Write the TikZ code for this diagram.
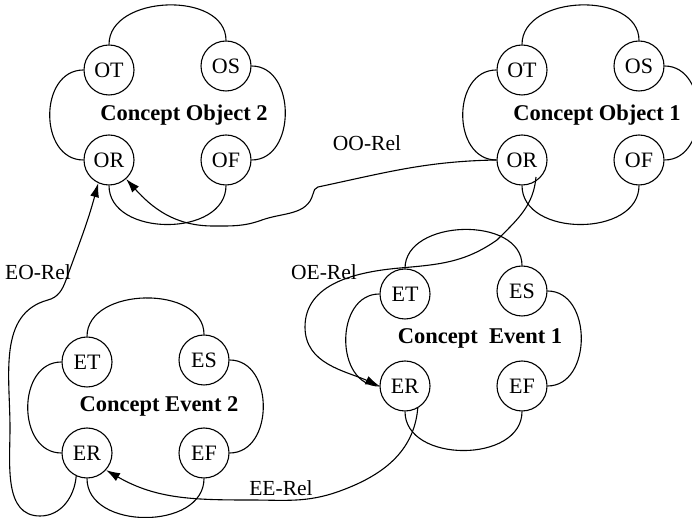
\documentclass[tikz,border=0pt]{standalone}
\usepackage{fontspec}
\setmainfont{Liberation Serif}
\usetikzlibrary{arrows.meta}
\begin{document}
\begin{tikzpicture}[x=1pt,y=1pt,
  sub/.style={circle, draw, line width=1.1pt, minimum size=50pt, inner sep=0pt, font=\fontsize{22}{24}\selectfont},
  cname/.style={font=\fontsize{22.5}{26}\selectfont\bfseries, inner sep=0pt},
  rel/.style={font=\fontsize{21.5}{24}\selectfont, inner sep=0pt},
  ringline/.style={line width=1.1pt},
  link/.style={line width=1.1pt, -{Latex[length=14pt,width=9pt]}},
]
\useasboundingbox (0,0) rectangle (692,518);

% Concept Object 2
\node[sub] (o2T) at (109,448) {OT};
\node[sub] (o2S) at (226,452) {OS};
\node[sub] (o2R) at (109,358) {OR};
\node[sub] (o2F) at (226,358) {OF};
\node[cname] (o2L) at (184,403) {Concept Object 2};
% Concept Object 1
\node[sub] (o1T) at (522,448) {OT};
\node[sub] (o1S) at (639,452) {OS};
\node[sub] (o1R) at (522,358) {OR};
\node[sub] (o1F) at (639,358) {OF};
\node[cname] (o1L) at (597,403) {Concept Object 1};
% Concept Event 1
\node[sub] (e1T) at (405,224) {ET};
\node[sub] (e1S) at (522,227) {ES};
\node[sub] (e1R) at (405,132) {ER};
\node[sub] (e1F) at (522,132) {EF};
\node[cname] (e1L) at (480,180) {Concept\ \ Event 1};
% Concept Event 2
\node[sub] (e2T) at (87,156) {ET};
\node[sub] (e2S) at (204,158) {ES};
\node[sub] (e2R) at (87,65) {ER};
\node[sub] (e2F) at (204,65) {EF};
\node[cname] (e2L) at (159,112) {Concept Event 2};

\foreach \p in {o2,o1,e1,e2}{
  \draw[ringline] (\p T.north) .. controls +(0,50) and +(0,50) .. (\p S.north);
  \draw[ringline] (\p T.west) .. controls +(-45,0) and +(-45,0) .. (\p R.west);
  \draw[ringline] (\p S.east) .. controls +(45,0) and +(45,0) .. (\p F.east);
  \draw[ringline] (\p R.south) .. controls +(0,-52) and +(0,-52) .. (\p F.south);
}

\coordinate (oeStart) at (536,341);

% relations
\draw[link] (o1R.west) to[out=181,in=12] (318,331) to[out=192,in=75] (313,324)
  to[out=255,in=20] (262,298) to[out=200,in=0] (213,292) to[out=180,in=-48] (o2R.-48);
\draw[link] (e2R.-115) to[out=-95,in=0] (40,2) to[out=180,in=-90] (10,90)
  to[out=90,in=195] (48,218) to[out=15,in=250] (66,238) to[out=70,in=-105] (o2R.-115);
\draw[link] (oeStart) to[out=-95,in=45] (497,278) to[out=215,in=5] (400,250)
  to[out=185,in=90] (305,191) to[out=-90,in=156] (e1R.west);
\draw[link] (e1R.-60) to[out=-95,in=20] (340,27) to[out=200,in=0] (250,18)
  to[out=180,in=-30] (e2R.-42);

\node[rel] (lOO) at (367,375) {OO-Rel};
\node[rel] (lOE) at (324,246) {OE-Rel};
\node[rel] (lEO) at (38,246) {EO-Rel};
\node[rel] (lEE) at (281,30) {EE-Rel};
\end{tikzpicture}
\end{document}
